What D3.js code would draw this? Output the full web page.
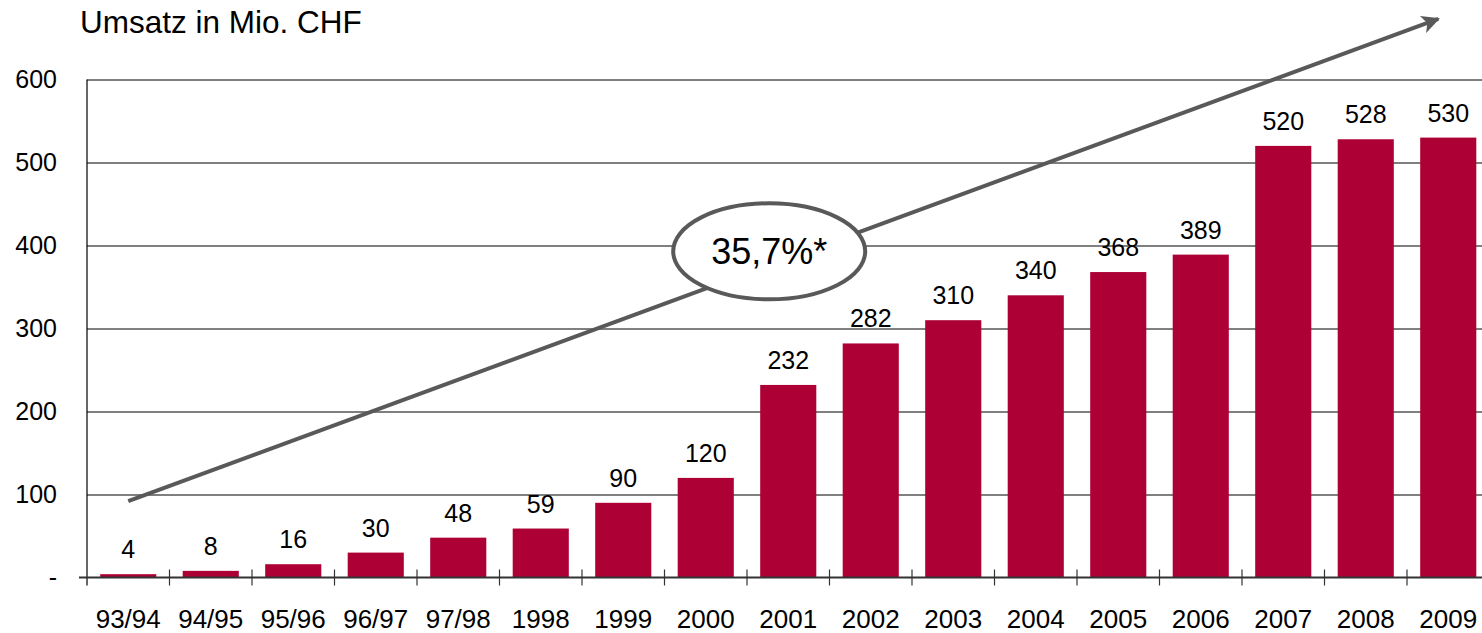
<!DOCTYPE html>
<html>
<head>
<meta charset="utf-8">
<script src="https://cdn.jsdelivr.net/npm/d3@7"></script>
<style>
  body { margin: 0; background: #fff; }
  text { font-family: "Liberation Sans", Arial, sans-serif; fill: #000; }
</style>
</head>
<body>
<div id="chart"></div>
<script>
// data
const years = ["93/94","94/95","95/96","96/97","97/98","1998","1999","2000","2001","2002","2003","2004","2005","2006","2007","2008","2009"];
const umsatz = [4, 8, 16, 30, 48, 59, 90, 120, 232, 282, 310, 340, 368, 389, 520, 528, 530];
const yTicks = [0, 100, 200, 300, 400, 500, 600];
const title = "Umsatz in Mio. CHF";
const growthLabel = "35,7%*";
// trend arrow, in data units (start at first year, end near last year)
const trendStart = 92, trendEnd = 673;

const W = 1482, H = 633;
const plotLeft = 87, plotBottom = 577.5, plotTop = 79.5;

const svg = d3.select("#chart").append("svg")
    .attr("width", W).attr("height", H);

const x = d3.scaleBand()
    .domain(years)
    .range([plotLeft, plotLeft + years.length * 82.5])
    .paddingInner(0.32)
    .paddingOuter(0.16);

const y = d3.scaleLinear()
    .domain([0, 600])
    .range([plotBottom, plotTop]);

// title
svg.append("text")
    .attr("x", 80).attr("y", 33)
    .attr("font-size", 31.5)
    .text(title);

// gridlines + y labels
const yAxis = svg.append("g")
    .attr("transform", `translate(${plotLeft},0)`)
    .call(d3.axisLeft(y).tickValues(yTicks).tickSize(8).tickPadding(22)
      .tickFormat(d => d === 0 ? "-" : d));
yAxis.select(".domain").remove();
yAxis.selectAll(".tick line").attr("stroke", "#000").attr("x2", W);
yAxis.selectAll(".tick text").attr("font-size", 25).attr("fill", "#000")
    .attr("font-family", "Liberation Sans, Arial, sans-serif");
yAxis.selectAll(".tick").filter(d => d === 0).select("line").remove();

// bars
svg.append("g").selectAll("rect")
  .data(years)
  .join("rect")
    .attr("x", d => x(d))
    .attr("width", x.bandwidth())
    .attr("y", (d, i) => y(umsatz[i]))
    .attr("height", (d, i) => y(0) - y(umsatz[i]))
    .attr("fill", "#ad0035");

// value labels
svg.append("g").selectAll("text")
  .data(years)
  .join("text")
    .attr("x", d => x(d) + x.bandwidth() / 2)
    .attr("y", (d, i) => y(umsatz[i]) - 16)
    .attr("text-anchor", "middle")
    .attr("font-size", 25)
    .text((d, i) => umsatz[i]);

// y axis line
svg.append("line")
    .attr("x1", plotLeft).attr("x2", plotLeft)
    .attr("y1", plotTop).attr("y2", plotBottom + 8)
    .attr("stroke", "#000").attr("stroke-width", 1.2);

// x axis baseline + ticks at band boundaries
svg.append("line")
    .attr("x1", plotLeft - 8).attr("x2", W)
    .attr("y1", plotBottom).attr("y2", plotBottom)
    .attr("stroke", "#333").attr("stroke-width", 2);
const step = x.step();
svg.append("g").selectAll("line")
  .data(years.slice(1))
  .join("line")
    .attr("x1", d => x(d) - step * x.paddingInner() / 2)
    .attr("x2", d => x(d) - step * x.paddingInner() / 2)
    .attr("y1", plotBottom - 8).attr("y2", plotBottom + 8)
    .attr("stroke", "#333").attr("stroke-width", 1.2);

// x labels
svg.append("g").selectAll("text")
  .data(years)
  .join("text")
    .attr("x", d => x(d) + x.bandwidth() / 2)
    .attr("y", 628)
    .attr("text-anchor", "middle")
    .attr("font-size", 26)
    .text(d => d);

// trend arrow
svg.append("defs").append("marker")
    .attr("id", "head")
    .attr("viewBox", "0 0 10 10")
    .attr("refX", 9).attr("refY", 5)
    .attr("markerWidth", 5).attr("markerHeight", 4.5)
    .attr("markerUnits", "strokeWidth")
    .attr("orient", "auto")
  .append("path")
    .attr("d", "M0,0 L10,5 L0,10 L2.5,5 Z")
    .attr("fill", "#595959");

const x0 = x(years[0]) + x.bandwidth() / 2;
const x1 = x(years[years.length - 1]) + x.bandwidth() / 2 - 10;
svg.append("line")
    .attr("x1", x0).attr("y1", y(trendStart))
    .attr("x2", x1).attr("y2", y(trendEnd))
    .attr("stroke", "#595959").attr("stroke-width", 4)
    .attr("marker-end", "url(#head)");

// growth bubble
const cx = x(years[8]) + 9;
const cy = y(393);
svg.append("ellipse")
    .attr("cx", cx).attr("cy", cy)
    .attr("rx", 96).attr("ry", 48)
    .attr("fill", "#fff")
    .attr("stroke", "#595959").attr("stroke-width", 4);
svg.append("text")
    .attr("x", cx).attr("y", cy + 13)
    .attr("text-anchor", "middle")
    .attr("font-size", 36)
    .text(growthLabel);
</script>
</body>
</html>
